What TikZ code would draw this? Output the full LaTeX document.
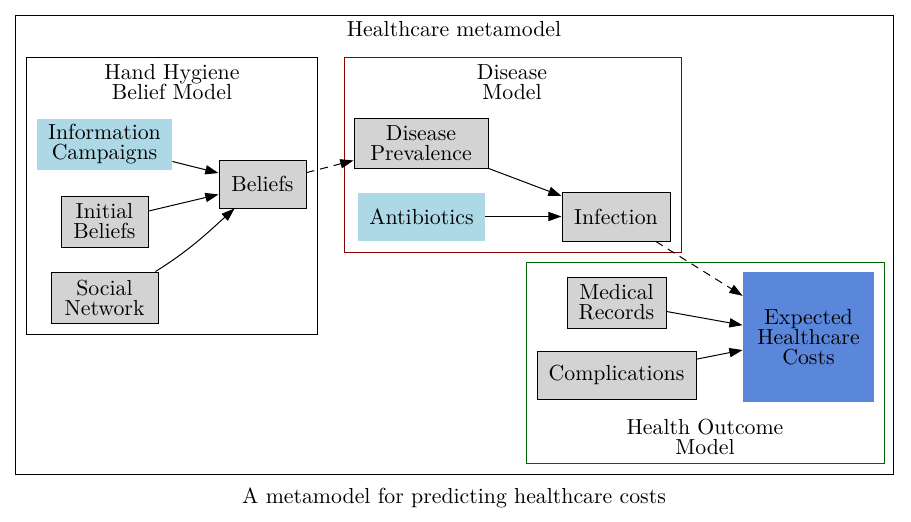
\documentclass[tikz,border=0pt]{standalone}
\usetikzlibrary{arrows.meta}
\definecolor{lblue}{HTML}{ADD8E6}
\definecolor{lgray}{HTML}{D3D3D3}
\definecolor{cblue}{HTML}{5B87DA}
\definecolor{dred}{HTML}{8B0000}
\definecolor{dgreen}{HTML}{006400}
\tikzset{
  box/.style={draw=black, fill=lgray, line width=0.5pt, inner sep=0pt, align=center},
  src/.style={fill=lblue, inner sep=0pt, align=center},
  arr/.style={-{Triangle[length=6.6pt,width=4.6pt]}, line width=0.5pt},
  dsh/.style={arr, dash pattern=on 4pt off 3pt},
  clus/.style={line width=0.5pt},
  lbl/.style={align=center, inner sep=0pt}
}
\begin{document}
\begin{tikzpicture}[x=0.5pt,y=-0.5pt,font=\fontsize{10.9}{10}\selectfont]
\useasboundingbox (0,0) rectangle (911,521);
\fill[white] (0,0) rectangle (911,521);
% clusters
\draw[clus] (15,15) rectangle (893,474);
\node[lbl] (tmeta) at (454,29) {Healthcare metamodel};
\draw[clus] (26,57) rectangle (317,334);
\node[lbl] (thand) at (172,82) {Hand Hygiene\\Belief Model};
\draw[clus, draw=dred] (344,57) rectangle (681,252);
\node[lbl] (tdis) at (512,82) {Disease\\Model};
\draw[clus, draw=dgreen] (526,262) rectangle (884,463);
\node[lbl] (thealth) at (705,437) {Health Outcome\\Model};
% nodes
\node[src, minimum width=67.5pt, minimum height=25.5pt] (info) at (104.5,144.5) {Information\\Campaigns};
\node[box, minimum width=43.5pt, minimum height=25.5pt] (init) at (104.5,221.5) {Initial\\Beliefs};
\node[box, minimum width=53.5pt, minimum height=25.5pt] (soc) at (104.5,297.5) {Social\\Network};
\node[box, minimum width=43.5pt, minimum height=24pt] (bel) at (262.5,184) {Beliefs};
\node[box, minimum width=67pt, minimum height=25pt] (dp) at (421,143) {Disease\\Prevalence};
\node[src, minimum width=63.5pt, minimum height=24pt] (anti) at (421.5,216.5) {Antibiotics};
\node[box, minimum width=54pt, minimum height=24.5pt] (inf) at (616,216.5) {Infection};
\node[box, minimum width=49.5pt, minimum height=25.5pt] (med) at (616.5,302.5) {Medical\\Records};
\node[box, minimum width=79.5pt, minimum height=24pt] (comp) at (616.5,375) {Complications};
\node[fill=cblue, inner sep=0pt, align=center, minimum width=65.5pt, minimum height=65pt] (exp) at (808.5,337) {Expected\\Healthcare\\Costs};
% edges
\draw[arr] (info) -- (bel);
\draw[arr] (init) -- (bel);
\draw[arr] ([xshift=-1.5pt]soc.north east) to[out=32,in=222] ([xshift=8pt]bel.south west);
\draw[dsh] (bel) -- (dp);
\draw[arr] (dp) -- (inf);
\draw[arr] (anti) -- (inf);
\draw[dsh] (inf) -- (exp);
\draw[arr] (med) -- (exp);
\draw[arr] (comp) -- (exp);
% caption
\node[lbl] (cap) at (454,498) {A metamodel for predicting healthcare costs};
\end{tikzpicture}
\end{document}
